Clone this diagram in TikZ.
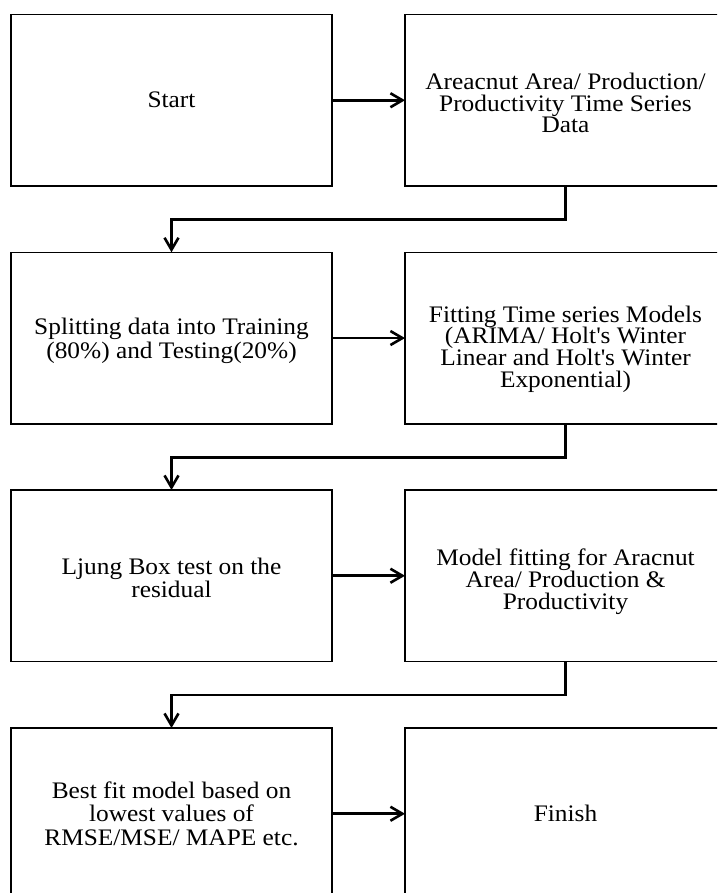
\documentclass[tikz,border=0pt]{standalone}
\usepackage{fontspec}
\setmainfont[FakeStretch=1.07]{Liberation Serif}
\usetikzlibrary{arrows.meta}
\begin{document}
\begin{tikzpicture}[x=1pt,y=-1pt,
  stepbox/.style={draw, line width=1.5pt, minimum width=321pt, minimum height=171.5pt,
    inner sep=0pt, outer sep=0pt, anchor=north west},
  lefttext/.style={align=center, font={\fontsize{23.7}{23.5}\selectfont}, inner sep=0pt},
  righttext/.style={align=center, font={\fontsize{23.7}{21.6}\selectfont}, inner sep=0pt},
  conn/.style={line width=2.6pt, -{Straight Barb[length=12pt,width=14pt]}},
  elbow/.style={conn, rounded corners=0pt}
]
\useasboundingbox (0,0) rectangle (717,893);
\clip (0,0) rectangle (717,893);

% boxes: left column and right column (right column runs off the page edge)
\node[stepbox] (start)  at (11,14.5)  {};
\node[stepbox] (data)   at (405,14.5) {};
\node[stepbox] (split)  at (11,252.3) {};
\node[stepbox] (fit)    at (405,252.3) {};
\node[stepbox] (ljung)  at (11,490)   {};
\node[stepbox] (model)  at (405,490)  {};
\node[stepbox] (best)   at (11,728)   {};
\node[stepbox] (finish) at (405,728)  {};

% box texts
\node[lefttext]  (tstart)  at (start.center) {Start};
\node[righttext] (tdata)   at ([yshift=-3pt]data.center)
  {Areacnut Area/ Production/\\Productivity Time Series\\Data};
\node[lefttext]  (tsplit)  at ([yshift=-3pt]split.center)
  {Splitting data into Training\\(80\%) and Testing(20\%)};
\node[righttext] (tfit)    at ([yshift=-11pt]fit.center)
  {Fitting Time series Models\\(ARIMA/ Holt\textquotesingle s Winter\\Linear and Holt\textquotesingle s Winter\\Exponential)};
\node[lefttext]  (tljung)  at ([yshift=-2pt]ljung.center)
  {Ljung Box test on the\\residual};
\node[righttext] (tmodel)  at ([yshift=-6pt]model.center)
  {Model fitting for Aracnut\\Area/ Production \&\\Productivity};
\node[lefttext]  (tbest)   at (best.center)
  {Best fit model based on\\lowest values of\\RMSE/MSE/ MAPE etc.};
\node[lefttext]  (tfinish) at (finish.center) {Finish};

% connectors
\draw[conn] (start.east) -- (data.west);
\draw[conn] (split.east) -- (fit.west);
\draw[conn] (ljung.east) -- (model.west);
\draw[conn] (best.east) -- (finish.west);

\draw[elbow] (data.south)  -- ++(0,33.5) -| (split.north);
\draw[elbow] (fit.south)   -- ++(0,33.5) -| (ljung.north);
\draw[elbow] (model.south) -- ++(0,33.5) -| (best.north);
\end{tikzpicture}
\end{document}
